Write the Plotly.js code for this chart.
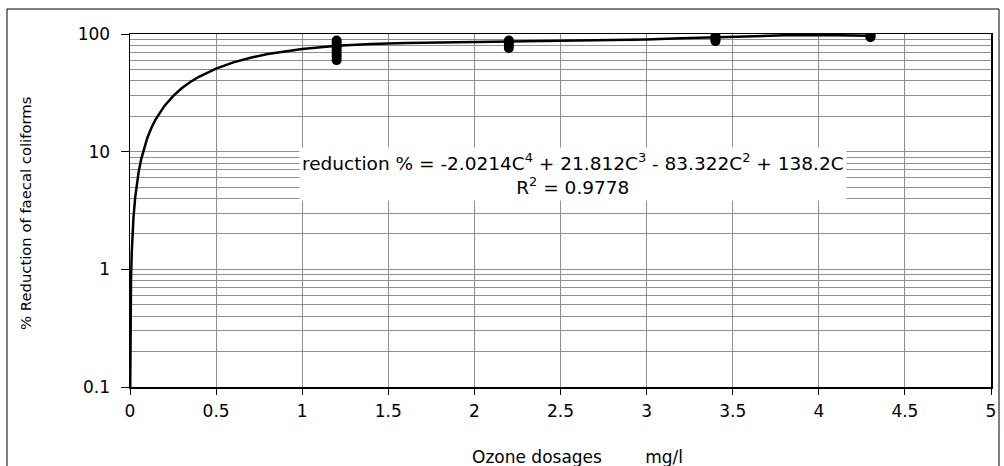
<!DOCTYPE html>
<html>
<head>
<meta charset="utf-8">
<script src="https://cdn.plot.ly/plotly-3.0.1.min.js"></script>
<style>
  html, body { margin: 0; padding: 0; background: #fff; }
  #chart { width: 1004px; height: 466px; }
</style>
</head>
<body>
<div id="chart"></div>
<script>
const dose12 = [1.2, 1.2, 1.2, 1.2, 1.2, 1.2, 1.2, 1.2];
const red12  = [60, 64, 68, 72, 76, 80, 84, 88];
const dose22 = [2.2, 2.2, 2.2, 2.2];
const red22  = [76, 80, 84, 88];
const dose34 = [3.4, 3.4, 3.4, 3.4];
const red34  = [87, 90, 93, 96];
const dose43 = [4.3, 4.3, 4.3];
const red43  = [94, 96, 98];

// Trend curve
const curveX = [0.0005, 0.001, 0.003, 0.006, 0.01, 0.015, 0.02, 0.03, 0.04, 0.05, 0.065, 0.08, 0.1, 0.125, 0.15, 0.2, 0.25, 0.3, 0.35, 0.4, 0.45, 0.5, 0.6, 0.7, 0.8, 0.9, 1.0, 1.2, 1.4, 1.6, 1.8, 2.0, 2.2, 2.4, 2.6, 2.8, 3.0, 3.2, 3.4, 3.6, 3.8, 4.0, 4.2, 4.3];
const curveY = [0.069, 0.138, 0.414, 0.826, 1.37, 2.05, 2.73, 4.07, 5.40, 6.70, 8.64, 10.53, 13.01, 16.02, 18.93, 24.48, 29.68, 34.53, 39.07, 43.29, 47.22, 50.87, 57.37, 62.91, 67.57, 71.46, 74.67, 79.36, 82.26, 83.91, 84.78, 85.27, 85.66, 86.21, 87.06, 88.27, 89.89, 91.80, 93.85, 95.81, 97.38, 98.14, 97.65, 96.8];

// Axis ticks
const xTickVals = [0, 0.5, 1, 1.5, 2, 2.5, 3, 3.5, 4, 4.5, 5];
const xTickText = ["0", "0.5", "1", "1.5", "2", "2.5", "3", "3.5", "4", "4.5", "5"];
const yTickVals = [0.1, 1, 10, 100];
const yTickText = ["0.1", "1", "10", "100"];
const yMinorVals = [0.2, 0.3, 0.4, 0.5, 0.6, 0.7, 0.8, 0.9, 2, 3, 4, 5, 6, 7, 8, 9, 20, 30, 40, 50, 60, 70, 80, 90];

const xTitle = "Ozone dosages\u00A0\u00A0\u00A0\u00A0\u00A0\u00A0\u00A0\u00A0mg/l";
const yTitle = "% Reduction of faecal coliforms";
const eqText = "reduction % = -2.0214C<sup>4</sup> + 21.812C<sup>3</sup> - 83.322C<sup>2</sup> + 138.2C<br>R<sup>2</sup> = 0.9778";

const fontMain = "DejaVu Sans, Liberation Sans, Arial, sans-serif";
const gridCol = "#8f8f8f";

const markerStyle = { symbol: "circle", size: 10, color: "#000" };
const traces = [
  { x: curveX, y: curveY, mode: "lines", line: { color: "#000", width: 2.5 }, hoverinfo: "skip" },
  { x: dose12, y: red12, mode: "markers", marker: markerStyle },
  { x: dose22, y: red22, mode: "markers", marker: markerStyle },
  { x: dose34, y: red34, mode: "markers", marker: markerStyle },
  { x: dose43, y: red43, mode: "markers", marker: markerStyle }
];

const layout = {
  width: 1004, height: 466,
  margin: { l: 130, r: 13, t: 34, b: 79 },
  paper_bgcolor: "#fff", plot_bgcolor: "#fff",
  showlegend: false,
  font: { family: fontMain, size: 17, color: "#000" },
  xaxis: {
    type: "linear", range: [0, 5],
    tickmode: "array", tickvals: xTickVals, ticktext: xTickText,
    ticks: "outside", ticklen: 6, tickcolor: "#000", tickwidth: 1,
    showline: true, linecolor: "#000", linewidth: 1.5, mirror: true,
    showgrid: true, gridcolor: gridCol, gridwidth: 1,
    zeroline: false,
    tickfont: { family: fontMain, size: 17, color: "#000" },
    ticklabelstandoff: 2
  },
  yaxis: {
    type: "log", range: [-1, 2],
    tickmode: "array", tickvals: yTickVals, ticktext: yTickText,
    ticks: "outside", ticklen: 8, tickcolor: "#000", tickwidth: 1,
    showline: true, linecolor: "#000", linewidth: 1.5, mirror: true,
    showgrid: true, gridcolor: gridCol, gridwidth: 1,
    zeroline: false,
    minor: { tickmode: "array", tickvals: yMinorVals, showgrid: true, gridcolor: gridCol, gridwidth: 1, ticks: "" },
    tickfont: { family: fontMain, size: 17, color: "#000" },
    ticklabelstandoff: 7
  },
  annotations: [
    { xref: "paper", yref: "paper", x: 0.515, y: 0.604, xanchor: "center", yanchor: "middle",
      text: eqText, showarrow: false, align: "center", bgcolor: "#fff", borderpad: 2,
      font: { family: fontMain, size: 18.5, color: "#000" } },
    { xref: "paper", yref: "paper", x: (577 - 130) / 861, y: (387 - 457) / 353, xanchor: "center", yanchor: "middle",
      text: xTitle, showarrow: false, font: { family: fontMain, size: 17, color: "#000" } },
    { xref: "paper", yref: "paper", x: (25 - 130) / 861, y: (387 - 214) / 353, xanchor: "center", yanchor: "middle",
      text: yTitle, textangle: -90, showarrow: false,
      font: { family: fontMain, size: 14.8, color: "#000" } }
  ],
  shapes: [
    { type: "rect", xref: "paper", yref: "paper",
      x0: (7 - 130) / 861, x1: (999 - 130) / 861, y0: -0.3, y1: (387 - 9) / 353,
      line: { color: "#000", width: 1 }, fillcolor: "rgba(0,0,0,0)", layer: "below" }
  ]
};

Plotly.newPlot("chart", traces, layout, { staticPlot: true, displayModeBar: false });
</script>
</body>
</html>
